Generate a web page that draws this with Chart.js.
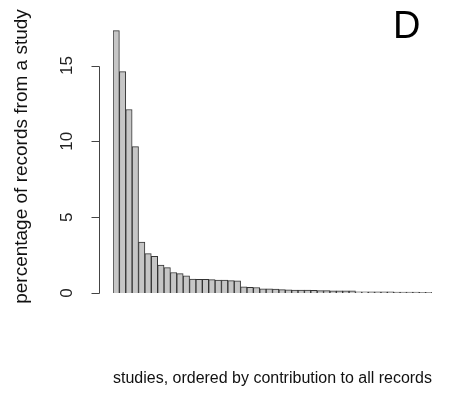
<!DOCTYPE html>
<html>
<head>
<meta charset="utf-8">
<script src="https://cdn.jsdelivr.net/npm/chart.js@4/dist/chart.umd.min.js"></script>
<style>
html,body{margin:0;padding:0;background:#fff;}
#wrap{width:469px;height:394px;position:relative;}
</style>
</head>
<body>
<div id="wrap"><canvas id="c" width="469" height="394"></canvas></div>
<script>
// ---- data ----
const studies = Array.from({length: 50}, (_, i) => 'S' + (i + 1));
const percentages = [
  17.3, 14.6, 12.1, 9.65, 3.35, 2.6, 2.42, 1.84, 1.67, 1.35,
  1.28, 1.14, 0.92, 0.9, 0.9, 0.88, 0.86, 0.85, 0.82, 0.8,
  0.4, 0.38, 0.36, 0.28, 0.27, 0.26, 0.22, 0.21, 0.2, 0.2,
  0.19, 0.17, 0.16, 0.16, 0.15, 0.15, 0.14, 0.14, 0.08, 0.08,
  0.07, 0.07, 0.07, 0.07, 0.06, 0.06, 0.06, 0.06, 0.05, 0.05
];
const yTicks = [0, 5, 10, 15];
const panelLabel = 'D';
const xTitle = 'studies, ordered by contribution to all records';
const yTitle = 'percentage of records from a study';

const FONT = 'Liberation Sans, Arial, sans-serif';

const rAxisPlugin = {
  id: 'rAxis',
  afterDraw(chart) {
    const ctx = chart.ctx;
    const y = chart.scales.y;
    const ax = chart.chartArea.left - 14;
    ctx.save();
    ctx.strokeStyle = '#444';
    ctx.lineWidth = 1;
    ctx.beginPath();
    const p0 = Math.round(y.getPixelForValue(yTicks[0])) + 0.5;
    const p1 = Math.round(y.getPixelForValue(yTicks[yTicks.length - 1])) + 0.5;
    ctx.moveTo(ax + 0.5, p0);
    ctx.lineTo(ax + 0.5, p1);
    yTicks.forEach(v => {
      const p = Math.round(y.getPixelForValue(v)) + 0.5;
      ctx.moveTo(ax + 0.5, p);
      ctx.lineTo(ax - 7.5, p);
    });
    ctx.stroke();
    ctx.fillStyle = '#000';
    ctx.font = '38px ' + FONT;
    ctx.textAlign = 'left';
    ctx.textBaseline = 'alphabetic';
    ctx.fillText(panelLabel, 393, 38);
    ctx.restore();
  }
};

new Chart(document.getElementById('c'), {
  type: 'bar',
  data: {
    labels: studies,
    datasets: [{
      data: percentages,
      backgroundColor: '#c6c6c6',
      borderColor: '#333',
      borderWidth: 1,
      barPercentage: 1,
      categoryPercentage: 1
    }]
  },
  options: {
    responsive: false,
    animation: false,
    devicePixelRatio: 1,
    layout: { padding: { top: 20, right: 37, left: 0, bottom: 0 } },
    plugins: { legend: { display: false }, tooltip: { enabled: false } },
    scales: {
      x: {
        grid: { display: false, drawTicks: false },
        border: { display: false },
        ticks: { display: false },
        title: { display: true, text: xTitle, color: '#111', font: { family: FONT, size: 16 }, padding: { top: 0, bottom: 6 } },
        afterFit(s) { s.height = 101; s.paddingLeft = 0; s.paddingRight = 0; }
      },
      y: {
        min: 0,
        max: 18,
        grid: { display: false, drawTicks: false },
        border: { display: false },
        afterBuildTicks(s) { s.ticks = yTicks.map(v => ({ value: v })); },
        ticks: {
          color: '#222',
          font: { family: FONT, size: 17 },
          minRotation: 90,
          maxRotation: 90,
          crossAlign: 'center',
          padding: 36
        },
        title: { display: true, text: yTitle, color: '#111', font: { family: FONT, size: 19 }, padding: { top: 10, bottom: 0 } },
        afterFit(s) { s.width = 113; s.paddingTop = 0; s.paddingBottom = 0; }
      }
    }
  },
  plugins: [rAxisPlugin]
});
</script>
</body>
</html>
